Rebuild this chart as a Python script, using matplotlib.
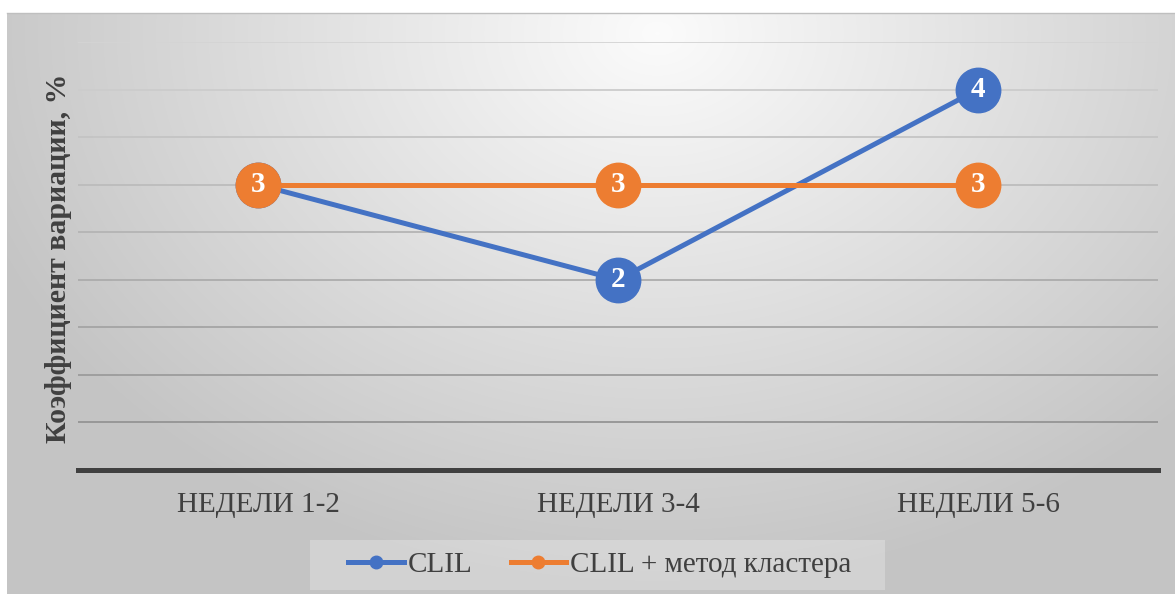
import numpy as np
import matplotlib.pyplot as plt
from matplotlib.lines import Line2D
from matplotlib.patches import Rectangle

plt.rcParams['font.family'] = ['Liberation Serif', 'DejaVu Serif']

categories = ['НЕДЕЛИ 1-2', 'НЕДЕЛИ 3-4', 'НЕДЕЛИ 5-6']
clil = [3, 2, 4]
clil_cluster = [3, 3, 3]
series_names = ['CLIL', 'CLIL + метод кластера']

blue = '#4472C4'
orange = '#ED7D31'
text_col = '#404040'

W, H = 1175, 594
fig = plt.figure(figsize=(W / 100, H / 100), dpi=100)
fig.patch.set_facecolor('white')

# radial gradient background of the chart area
bg = fig.add_axes([7 / W, 0, 1 - 7 / W, (H - 13) / H])
gx, gy = np.meshgrid(np.arange(W - 7), np.arange(H - 13))
d = np.sqrt(((gx - 650) / 1.0) ** 2 + ((gy - 20) * 1.3) ** 2)
t = np.clip(d / 720, 0, 1)
light, dark = 0.985, 0.77
img = light + (dark - light) * t
bg.imshow(np.dstack([img, img, img]), aspect='auto', interpolation='bilinear')
bg.axis('off')
fig.add_artist(Line2D([7 / W, 1], [1 - 13 / H, 1 - 13 / H], color='#bfbfbf', lw=1))

ax = fig.add_axes([78 / W, 1 - 470 / H, (1158 - 78) / W, (470 - 42) / H])
ax.set_facecolor('none')
x = np.arange(len(categories))

# gridlines, lighter at the top, darker toward the axis
levels = np.arange(0.5, 4.51, 0.5)
for lv in levels:
    g = 0.58 + (0.83 - 0.58) * (lv - 0.5) / 4.0
    ax.axhline(lv, color=(g, g, g), lw=1.3, zorder=1)

ax.plot(x, clil, color=blue, lw=3.6, marker='o', ms=32, zorder=3,
        solid_capstyle='round')
ax.plot(x, clil_cluster, color=orange, lw=3.6, marker='o', ms=32, zorder=4,
        solid_capstyle='round')
for xi, v in zip(x, clil):
    if v != 3:
        ax.text(xi, v, str(v), color='white', fontsize=21, fontweight='bold',
                ha='center', va='center', zorder=5)
for xi, v in zip(x, clil_cluster):
    ax.text(xi, v, str(v), color='white', fontsize=21, fontweight='bold',
            ha='center', va='center', zorder=5)

ax.set_xlim(-0.5, 2.5)
ax.set_ylim(0, 4.5)
ax.set_xticks(x)
ax.set_xticklabels(categories, fontsize=21, color=text_col)
ax.set_yticks([])
ax.tick_params(axis='x', length=0, pad=16)
for s in ['top', 'right', 'left']:
    ax.spines[s].set_visible(False)
ax.spines['bottom'].set_color(text_col)
ax.spines['bottom'].set_linewidth(3.6)
ax.spines['bottom'].set_zorder(2)

fig.text(58 / W, 1 - 258 / H, 'Коэффициент вариации, %', rotation=90,
         fontsize=21.5, fontweight='bold', color=text_col, ha='center', va='center')

# legend box
fig.add_artist(Rectangle((310 / W, 1 - 590 / H), 575 / W, 50 / H,
                         transform=fig.transFigure, facecolor=(1, 1, 1, 0.25),
                         edgecolor='none'))
handles = [Line2D([], [], color=blue, lw=3.6, marker='o', ms=9),
           Line2D([], [], color=orange, lw=3.6, marker='o', ms=9)]
leg = fig.legend(handles, series_names, loc='center', ncol=2,
                 bbox_to_anchor=(600 / W, 1 - 565 / H), fontsize=21,
                 frameon=False, handlelength=1.9,
                 handletextpad=0.15, columnspacing=1.3, borderpad=0.35,
                 borderaxespad=0)
for txt in leg.get_texts():
    txt.set_color(text_col)

fig.savefig('out.png', dpi=100)
